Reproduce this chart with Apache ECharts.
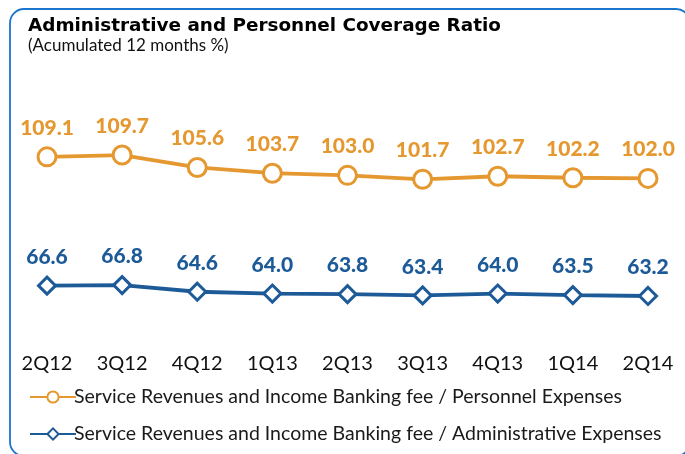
<!DOCTYPE html>
<html>
<head>
<meta charset="utf-8">
<script src="https://cdn.jsdelivr.net/npm/echarts@6/dist/echarts.min.js"></script>
<style>
  html, body { margin: 0; padding: 0; background: #fff; }
  #chart { width: 685px; height: 454px; }
</style>
</head>
<body>
<div id="chart"></div>
<script>
// Quarterly periods on the horizontal axis
const quarters = ['2Q12', '3Q12', '4Q12', '1Q13', '2Q13', '3Q13', '4Q13', '1Q14', '2Q14'];

// Coverage ratios, accumulated 12 months (%)
const personnelRatio = [109.1, 109.7, 105.6, 103.7, 103.0, 101.7, 102.7, 102.2, 102.0];
const adminRatio = [66.6, 66.8, 64.6, 64.0, 63.8, 63.4, 64.0, 63.5, 63.2];

const seriesNames = [
  'Service Revenues and Income Banking fee / Personnel Expenses',
  'Service Revenues and Income Banking fee / Administrative Expenses'
];

const ORANGE = '#E5982F';
const BLUE = '#1D5A98';
const FONT = 'Lato';

const chart = echarts.init(document.getElementById('chart'), null, { renderer: 'canvas' });

function lineSeries(name, data, color, symbol, size) {
  return {
    name: name,
    type: 'line',
    data: data,
    symbol: symbol,
    symbolSize: size,
    showAllSymbol: true,
    lineStyle: { color: color, width: 3.8 },
    itemStyle: { color: '#fff', borderColor: color, borderWidth: 3 },
    label: {
      show: true,
      position: 'top',
      distance: 8,
      color: color,
      fontFamily: FONT,
      fontWeight: 900,
      fontSize: 21,
      formatter: p => p.value.toFixed(1)
    },
    emphasis: { disabled: true },
    animation: false
  };
}

chart.setOption({
  animation: false,
  backgroundColor: '#fff',
  title: {
    text: 'Administrative and Personnel Coverage Ratio',
    subtext: '(Acumulated 12 months %)',
    left: 23,
    top: 12,
    itemGap: 2,
    textStyle: { fontFamily: 'DejaVu Sans', fontWeight: 'bold', fontSize: 18.4, color: '#000' },
    subtextStyle: { fontFamily: FONT, fontSize: 17, color: '#111' }
  },
  graphic: [{
    type: 'rect',
    shape: { x: 10, y: 9, width: 680, height: 447, r: 14 },
    style: { fill: 'none', stroke: '#1B75CC', lineWidth: 1.8 },
    silent: true
  }],
  legend: {
    orient: 'vertical',
    left: 24,
    top: 382,
    itemGap: 17,
    itemWidth: 46,
    itemHeight: 14,
    textStyle: { fontFamily: FONT, fontSize: 19.5, color: '#1a1a1a', padding: [0, 0, 0, -7] },
    data: seriesNames
  },
  grid: { left: 47, right: 37, top: 93.5, bottom: 118, containLabel: false },
  xAxis: {
    type: 'category',
    data: quarters,
    boundaryGap: false,
    axisLine: { show: false },
    axisTick: { show: false },
    axisLabel: { fontFamily: FONT, fontSize: 20, color: '#111', margin: 18 }
  },
  yAxis: {
    type: 'value',
    min: 50,
    max: 130,
    show: false
  },
  series: [
    lineSeries(seriesNames[0], personnelRatio, ORANGE, 'circle', 18),
    lineSeries(seriesNames[1], adminRatio, BLUE, 'diamond', 17)
  ]
});
</script>
</body>
</html>
